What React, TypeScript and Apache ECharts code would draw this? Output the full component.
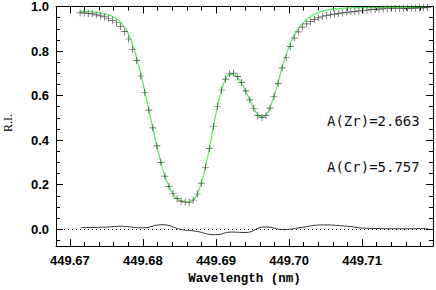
import { useEffect, useRef } from "react";
import * as echarts from "echarts";

const wavelengths = [
  449.6714, 449.67195, 449.67251, 449.67306, 449.67361, 449.67417, 449.67472, 449.67527, 449.67582, 449.67638,
  449.67693, 449.67748, 449.67804, 449.67859, 449.67914, 449.6797, 449.68025, 449.6808, 449.68135, 449.68191,
  449.68246, 449.68301, 449.68357, 449.68412, 449.68467, 449.68523, 449.68578, 449.68633, 449.68688, 449.68744,
  449.68799, 449.68854, 449.6891, 449.68965, 449.6902, 449.69076, 449.69131, 449.69186, 449.69241, 449.69297,
  449.69352, 449.69407, 449.69463, 449.69518, 449.69573, 449.69629, 449.69684, 449.69739, 449.69794, 449.6985,
  449.69905, 449.6996, 449.70016, 449.70071, 449.70126, 449.70182, 449.70237, 449.70292, 449.70347, 449.70403,
  449.70458, 449.70513, 449.70569, 449.70624, 449.70679, 449.70735, 449.7079, 449.70845, 449.709, 449.70956,
  449.71011, 449.71066, 449.71122, 449.71177, 449.71232, 449.71288, 449.71343, 449.71398, 449.71453, 449.71509,
  449.71564, 449.71619, 449.71675, 449.7173, 449.71785, 449.71841, 449.71896,
];

const observedFlux = [
  0.971, 0.971, 0.969, 0.967, 0.962, 0.958, 0.953, 0.946, 0.938, 0.927,
  0.91, 0.887, 0.854, 0.808, 0.757, 0.688, 0.615, 0.535, 0.455, 0.374,
  0.3, 0.238, 0.192, 0.159, 0.137, 0.126, 0.122, 0.121, 0.131, 0.158,
  0.207, 0.278, 0.362, 0.461, 0.552, 0.625, 0.674, 0.698, 0.701, 0.685,
  0.659, 0.621, 0.581, 0.542, 0.511, 0.502, 0.51, 0.544, 0.597, 0.655,
  0.724, 0.771, 0.82, 0.858, 0.886, 0.907, 0.922, 0.933, 0.942, 0.949,
  0.955, 0.96, 0.963, 0.966, 0.969, 0.971, 0.974, 0.976, 0.978, 0.98,
  0.982, 0.984, 0.986, 0.987, 0.988, 0.989, 0.99, 0.99, 0.991, 0.991,
  0.992, 0.992, 0.993, 0.993, 0.994, 0.994, 0.995,
];

const modelFlux = [
  0.979, 0.978, 0.977, 0.976, 0.974, 0.971, 0.967, 0.962, 0.955, 0.945,
  0.93, 0.907, 0.874, 0.828, 0.769, 0.697, 0.619, 0.537, 0.455, 0.374,
  0.3, 0.238, 0.192, 0.159, 0.137, 0.126, 0.122, 0.122, 0.131, 0.158,
  0.207, 0.278, 0.362, 0.461, 0.552, 0.625, 0.673, 0.694, 0.694, 0.68,
  0.655, 0.619, 0.581, 0.543, 0.514, 0.505, 0.513, 0.545, 0.599, 0.66,
  0.728, 0.782, 0.832, 0.871, 0.9, 0.922, 0.94, 0.954, 0.965, 0.973,
  0.979, 0.984, 0.987, 0.989, 0.991, 0.992, 0.993, 0.994, 0.995, 0.995,
  0.995, 0.995, 0.995, 0.995, 0.995, 0.996, 0.996, 0.996, 0.996, 0.996,
  0.996, 0.996, 0.996, 0.996, 0.996, 0.996, 0.996,
];

const residualWavelengths = [
  449.6715, 449.6748, 449.6770, 449.6799, 449.6826, 449.6853, 449.6872, 449.6899, 449.6921,
  449.6940, 449.6967, 449.6994, 449.7015, 449.7047, 449.7080, 449.7106, 449.7150, 449.7190,
];
const residualValues = [
  0.007, 0.009, 0.013, 0.006, 0.020, -0.002, -0.009, -0.025, -0.013,
  -0.015, 0.010, -0.002, 0.007, 0.019, 0.013, 0.004, 0.002, 0.003,
];

const xMajorTicks = [449.67, 449.68, 449.69, 449.7, 449.71];
const xMinorTicks = [
  449.67, 449.672, 449.674, 449.676, 449.678, 449.68, 449.682, 449.684, 449.686, 449.688,
  449.69, 449.692, 449.694, 449.696, 449.698, 449.7, 449.702, 449.704, 449.706, 449.708,
  449.71, 449.712, 449.714, 449.716, 449.718,
];
const yMajorTicks = [0, 0.2, 0.4, 0.6, 0.8, 1.0];
const yMinorTicks = [
  -0.05, 0, 0.05, 0.1, 0.15, 0.2, 0.25, 0.3, 0.35, 0.4, 0.45, 0.5, 0.55, 0.6, 0.65, 0.7, 0.75,
  0.8, 0.85, 0.9, 0.95, 1.0,
];
const annotations = ["A(Zr)=2.663", "A(Cr)=5.757"];
const xTitle = "Wavelength (nm)";
const yTitle = "R.I.";

const X_MIN = 449.6681;
const X_MAX = 449.7197;
const Y_MIN = -0.076;
const Y_MAX = 1.0;

export default function App() {
  const ref = useRef<HTMLDivElement>(null);

  useEffect(() => {
    document.body.style.margin = "0";
    if (!ref.current) return;
    const chart = echarts.init(ref.current, null, { renderer: "svg" });

    const noSplit = { show: false };
    const xAxisBase = (position: string, ticks: number[], len: number, showLine: boolean, showLabel: boolean) => ({
      type: "value",
      position,
      min: X_MIN,
      max: X_MAX,
      gridIndex: 0,
      offset: 0,
      splitLine: noSplit,
      axisLine: { show: showLine, onZero: false, lineStyle: { color: "#000", width: 1 } },
      axisTick: { show: true, inside: true, length: len, customValues: ticks, lineStyle: { color: "#000", width: 1 } },
      axisLabel: showLabel
        ? {
            show: true,
            customValues: ticks,
            formatter: (v: number) => v.toFixed(2),
            color: "#000",
            fontFamily: "Liberation Sans",
            fontWeight: "bold",
            fontSize: 13,
            margin: 8,
          }
        : { show: false },
    });
    const yAxisBase = (position: string, ticks: number[], len: number, showLine: boolean, showLabel: boolean) => ({
      type: "value",
      position,
      min: Y_MIN,
      max: Y_MAX,
      gridIndex: 0,
      offset: 0,
      splitLine: noSplit,
      axisLine: { show: showLine, onZero: false, lineStyle: { color: "#000", width: 1 } },
      axisTick: { show: true, inside: true, length: len, customValues: ticks, lineStyle: { color: "#000", width: 1 } },
      axisLabel: showLabel
        ? {
            show: true,
            customValues: ticks,
            formatter: (v: number) => v.toFixed(1),
            color: "#000",
            fontFamily: "Liberation Sans",
            fontWeight: "bold",
            fontSize: 13,
            margin: 7,
          }
        : { show: false },
    });

    const option: any = {
      animation: false,
      backgroundColor: "#fff",
      grid: { left: 56, right: 3, top: 4, bottom: 36, containLabel: false },
      xAxis: [
        {
          ...xAxisBase("bottom", xMajorTicks, 7, true, true),
          name: xTitle,
          nameLocation: "middle",
          nameGap: 25,
          nameTextStyle: { fontFamily: "Liberation Mono", fontWeight: "bold", fontSize: 12.5, color: "#000" },
        },
        xAxisBase("bottom", xMinorTicks, 4, false, false),
        xAxisBase("top", xMajorTicks, 7, true, false),
        xAxisBase("top", xMinorTicks, 4, false, false),
      ],
      yAxis: [
        yAxisBase("left", yMajorTicks, 7, true, true),
        yAxisBase("left", yMinorTicks, 4, false, false),
        yAxisBase("right", yMajorTicks, 7, true, false),
        yAxisBase("right", yMinorTicks, 4, false, false),
      ],
      series: [
        {
          type: "line",
          name: "model",
          data: wavelengths.map((w, i) => [w, modelFlux[i]]),
          smooth: true,
          showSymbol: false,
          symbol: "none",
          lineStyle: { color: "#55ee55", width: 1.2 },
          z: 2,
        },
        {
          type: "scatter",
          name: "observed",
          data: wavelengths.map((w, i) => [w, observedFlux[i]]),
          symbol: "path://M4.5 0H5.5V4.5H10V5.5H5.5V10H4.5V5.5H0V4.5H4.5Z",
          symbolSize: 7,
          itemStyle: { color: "#222" },
          z: 3,
        },
        {
          type: "line",
          name: "residual",
          data: residualWavelengths.map((w, i) => [w, residualValues[i]]),
          smooth: true,
          showSymbol: false,
          symbol: "none",
          lineStyle: { color: "#333", width: 1 },
          markLine: {
            silent: true,
            symbol: "none",
            label: { show: false },
            lineStyle: { color: "#000", type: [1, 3], width: 1 },
            data: [{ yAxis: 0 }],
          },
          z: 2,
        },
      ],
      graphic: [
        {
          type: "text",
          x: 8,
          y: 123,
          rotation: Math.PI / 2,
          style: {
            text: yTitle,
            fontFamily: "Liberation Serif",
            fontSize: 12,
            fill: "#000",
            align: "center",
            verticalAlign: "middle",
          },
        },
        {
          type: "text",
          x: 327,
          y: 121,
          style: {
            text: annotations[0],
            fontFamily: "DejaVu Sans Mono",
            fontSize: 14,
            fill: "#111",
            align: "left",
            verticalAlign: "middle",
          },
        },
        {
          type: "text",
          x: 327,
          y: 167,
          style: {
            text: annotations[1],
            fontFamily: "DejaVu Sans Mono",
            fontSize: 14,
            fill: "#111",
            align: "left",
            verticalAlign: "middle",
          },
        },
      ],
    };

    chart.setOption(option);
    return () => chart.dispose();
  }, []);

  return <div ref={ref} style={{ width: 436, height: 290 }} />;
}
